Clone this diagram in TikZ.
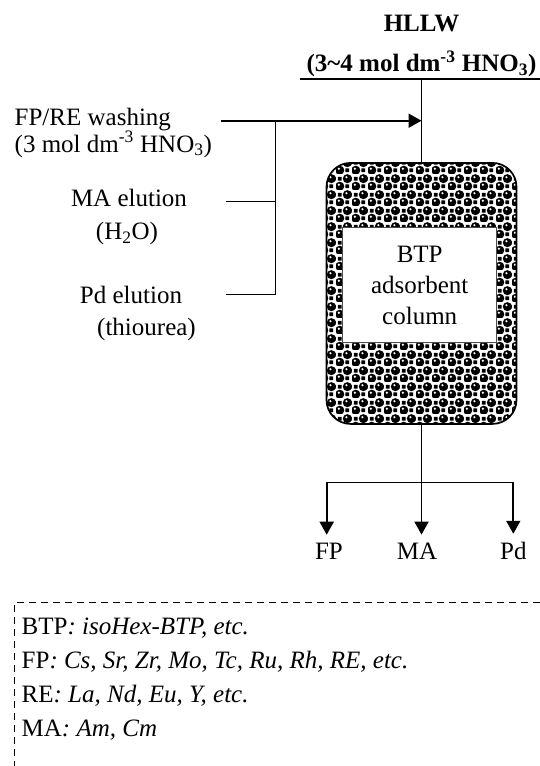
\documentclass[tikz,border=0pt]{standalone}
\usepackage{fontspec}
\setmainfont{Liberation Serif}
\usetikzlibrary{arrows.meta}
\usetikzlibrary{patterns.meta}

\tikzdeclarepattern{
  name=beads,
  type=colored,
  bottom left={(0pt,0pt)},
  top right={(16pt,16pt)},
  tile size={(16pt,16pt)},
  code={
    \fill[white] (0pt,0pt) rectangle (16pt,16pt);
    \fill[black] (4pt,4pt) circle (4.8pt);
    \fill[black] (12pt,12pt) circle (4.8pt);
    \fill[black] (10pt,2pt) rectangle (14pt,6pt);
    \fill[black] (2pt,10pt) rectangle (6pt,14pt);
    \fill[white] (3pt,5.6pt) circle (1.3pt);
    \fill[white] (11pt,13.6pt) circle (1.3pt);
  }
}

\begin{document}
\begin{tikzpicture}[x=1pt, y=-1pt,
    every node/.style={font=\fontsize{25}{30}\selectfont, inner sep=0pt},
    txt/.style={anchor=base},
    pipe/.style={line width=1.4pt},
    flow/.style={line width=1.9pt, -{Triangle[length=13pt,width=14pt]}},
    keyline/.style={line width=1.2pt, dash pattern=on 7pt off 5pt}]

  \useasboundingbox (0,0) rectangle (540,766);

  % feed
  \node[txt] (hllw) at (421.5,31.5) {\textbf{HLLW}};
  \node[txt] (conc) at (421.5,71.5) {\textbf{(3\textasciitilde4 mol dm\textsuperscript{-3} HNO\textsubscript{3})}};

  % column
  \node[draw, line width=1.7pt, rounded corners=24pt, pattern=beads,
    minimum width=190pt, minimum height=261pt] (col) at (421.5,293.4) {};
  \node[draw=black!70, line width=1pt, fill=white, minimum width=154pt,
    minimum height=115pt, align=center, font=\fontsize{25}{31}\selectfont]
    (core) at (419.7,285) {BTP\\adsorbent\\column};

  \coordinate (feedL) at (300,79);
  \coordinate (feedR) at (540,79);
  \draw[pipe] (feedL) -- (feedR);
  \draw[pipe] (col.north |- feedL) -- (col.north);

  % eluents
  \node[txt, anchor=base west] (wash1) at (14.5,125) {FP/RE washing};
  \node[txt, anchor=base west] (wash2) at (14.5,152) {(3 mol dm\textsuperscript{-3} HNO\textsubscript{3})};
  \node[txt] (ma1) at (129,206.7) {MA elution};
  \node[txt] (ma2) at (127,239.3) {(H\textsubscript{2}O)};
  \node[txt] (pd1) at (131,303.3) {Pd elution};
  \node[txt] (pd2) at (146.5,335.5) {(thiourea)};

  \coordinate (wash) at (220.5,120.7);
  \coordinate (jtop) at (275.5,120.7);
  \coordinate (jbot) at (275.5,294.5);
  \coordinate (maIn) at (225.5,201.7);
  \coordinate (pdIn) at (225.5,294.5);
  \draw[flow] (wash) -- (wash -| col.north);
  \draw[pipe] (jtop) -- (jbot);
  \draw[pipe] (maIn) -- (maIn -| jtop);
  \draw[pipe] (pdIn) -- (jbot);

  % fractions
  \node[txt] (fp) at (329,559.3) {FP};
  \node[txt] (ma) at (417,559.3) {MA};
  \node[txt] (pd) at (513.3,559.3) {Pd};

  \coordinate (outFP) at (326.7,482.3);
  \coordinate (outPd) at (513.3,482.3);
  \draw[pipe] (outFP) -- (outPd);
  \draw[flow] (outFP) -- ([yshift=8pt]fp.north -| outFP);
  \draw[flow] (col.south) -- ([yshift=8pt]ma.north -| col.south);
  \draw[flow] (outPd) -- ([yshift=8pt]pd.north -| outPd);

  % legend
  \coordinate (keyC) at (14.5,602.7);
  \coordinate (keyR) at (540,602.7);
  \coordinate (keyB) at (14.5,766);
  \draw[keyline] (keyR) -- (keyC) -- (keyB);
  \foreach \t [count=\i] in {{BTP\textit{: isoHex-BTP, etc.}},
      {FP\textit{: Cs, Sr, Zr, Mo, Tc, Ru, Rh, RE, etc.}},
      {RE\textit{: La, Nd, Eu, Y, etc.}},
      {MA\textit{: Am, Cm}}}
    \node[txt, anchor=base west] (key\i) at (21.5,{600+34*\i}) {\t};

\end{tikzpicture}
\end{document}
